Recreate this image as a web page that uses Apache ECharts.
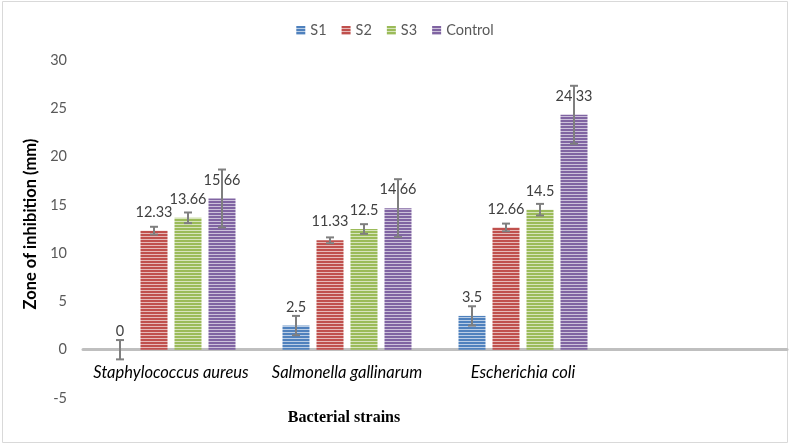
<!DOCTYPE html>
<html>
<head>
<meta charset="utf-8">
<script src="https://cdn.jsdelivr.net/npm/echarts@6/dist/echarts.min.js"></script>
<style>
    html, body { margin: 0; padding: 0; background: #fff; }
    #chart { width: 790px; height: 445px; }
</style>
</head>
<body>
<div id="chart"></div>
<script>
// categories (the 4th slot is empty, like the excel original)
const categories = ['Staphylococcus aureus', 'Salmonella gallinarum', 'Escherichia coli', ''];
const seriesNames = ['S1', 'S2', 'S3', 'Control'];

// zone of inhibition (mm)
const s1 = [0, 2.5, 3.5];
const s2 = [12.33, 11.33, 12.66];
const s3 = [13.66, 12.5, 14.5];
const control = [15.66, 14.66, 24.33];

// error (+/-)
const s1Err = [1, 1, 1];
const s2Err = [0.4, 0.3, 0.4];
const s3Err = [0.55, 0.5, 0.6];
const controlErr = [3, 3, 3];

// y axis
const yMin = -5;
const yMax = 30;
const yStep = 5;

const colors = ['#4f81bd', '#c0504d', '#9bbb59', '#8064a2'];
const BAR_W = 27;
const BAR_GAP = 7;
const GRID_TOP = 60;
const GRID_BOTTOM = 47;
const GRID_H = 445 - GRID_TOP - GRID_BOTTOM;

// horizontal stripes pattern, like excel fill
const stripe = (hex) => {
    const c = document.createElement('canvas');
    c.width = 4; c.height = 3;
    const ctx = c.getContext('2d');
    const r = parseInt(hex.slice(1, 3), 16), g = parseInt(hex.slice(3, 5), 16), b = parseInt(hex.slice(5, 7), 16);
    const mix = (v) => Math.round(v + (255 - v) * 0.6);
    ctx.fillStyle = `rgb(${mix(r)},${mix(g)},${mix(b)})`;
    ctx.fillRect(0, 0, 4, 3);
    ctx.fillStyle = hex;
    ctx.fillRect(0, 0, 4, 2);
    return { image: c, repeat: 'repeat' };
};

const values = [s1, s2, s3, control];
const errs = [s1Err, s2Err, s3Err, controlErr];

// error bar data: [catIndex, low, high, seriesIndex]
let errData = [];
values.forEach((arr, si) => {
    arr.forEach((v, ci) => {
        errData.push([ci, v - errs[si][ci], v + errs[si][ci], si]);
    });
});

const barSeries = seriesNames.map((name, i) => ({
    name: name,
    type: 'bar',
    data: values[i],
    barWidth: BAR_W,
    barGap: (BAR_GAP / BAR_W * 100) + '%',
    itemStyle: {
        color: stripe(colors[i]),
    },
    label: {
        show: true,
        position: 'top',
        distance: 11,
        color: '#404040',
        fontSize: 14.5,
        fontFamily: 'Lato',
    },
    z: 2,
}));

const errSeries = {
    type: 'custom',
    data: errData,
    encode: { x: 0, y: [1, 2] },
    z: 5,
    silent: true,
    renderItem: (params, api) => {
        const ci = api.value(0);
        const si = api.value(3);
        const lo = api.coord([ci, api.value(1)]);
        const hi = api.coord([ci, api.value(2)]);
        const x = lo[0] + (si - 1.5) * (BAR_W + BAR_GAP);
        const style = { stroke: '#7f7f7f', lineWidth: 2 };
        return {
            type: 'group',
            children: [
                { type: 'line', shape: { x1: x, y1: lo[1], x2: x, y2: hi[1] }, style: style },
                { type: 'line', shape: { x1: x - 4, y1: lo[1], x2: x + 4, y2: lo[1] }, style: style },
                { type: 'line', shape: { x1: x - 4, y1: hi[1], x2: x + 4, y2: hi[1] }, style: style },
            ]
        };
    }
};

let option = {
    animation: false,
    legend: {
        data: seriesNames,
        top: 18,
        left: 'center',
        icon: 'rect',
        itemWidth: 9,
        itemHeight: 9,
        itemGap: 15,
        textStyle: {
            color: '#595959',
            fontSize: 14.5,
            fontFamily: 'Lato',
        },
    },
    grid: {
        left: 83,
        right: 3,
        top: GRID_TOP,
        bottom: GRID_BOTTOM,
    },
    xAxis: {
        type: 'category',
        data: categories,
        // put the whole axis (line + labels) at y = 0
        offset: -GRID_H * (0 - yMin) / (yMax - yMin),
        axisLine: {
            onZero: false,
            lineStyle: { color: '#bfbfbf', width: 3 },
        },
        axisTick: { show: false },
        axisLabel: {
            interval: 0,
            margin: 14,
            color: '#000',
            fontSize: 16.5,
            fontStyle: 'italic',
            fontFamily: 'Lato',
        },
    },
    yAxis: {
        type: 'value',
        min: yMin,
        max: yMax,
        interval: yStep,
        splitLine: { show: false },
        axisLine: { show: false },
        axisTick: { show: false },
        axisLabel: {
            margin: 16,
            color: '#595959',
            fontSize: 14.5,
            fontFamily: 'Lato',
        },
        name: 'Zone of inhibition (mm)',
        nameLocation: 'middle',
        nameGap: 40,
        nameTextStyle: {
            color: '#000',
            fontSize: 16.5,
            fontWeight: 'bold',
            fontFamily: 'Lato',
            padding: [0, 0, 0, 10],
        },
    },
    graphic: [
        {
            type: 'rect',
            shape: { x: 2.5, y: 1.5, width: 785, height: 441 },
            style: { fill: 'none', stroke: '#d9d9d9', lineWidth: 1 },
            silent: true,
        },
        {
            type: 'text',
            x: 344,
            y: 418,
            style: {
                text: 'Bacterial strains',
                fill: '#000',
                font: 'bold 16px "Liberation Serif"',
                align: 'center',
                verticalAlign: 'middle',
            },
        },
    ],
    series: [...barSeries, errSeries],
};

const myChart = echarts.init(document.getElementById('chart'));
myChart.setOption(option);
</script>
</body>
</html>
